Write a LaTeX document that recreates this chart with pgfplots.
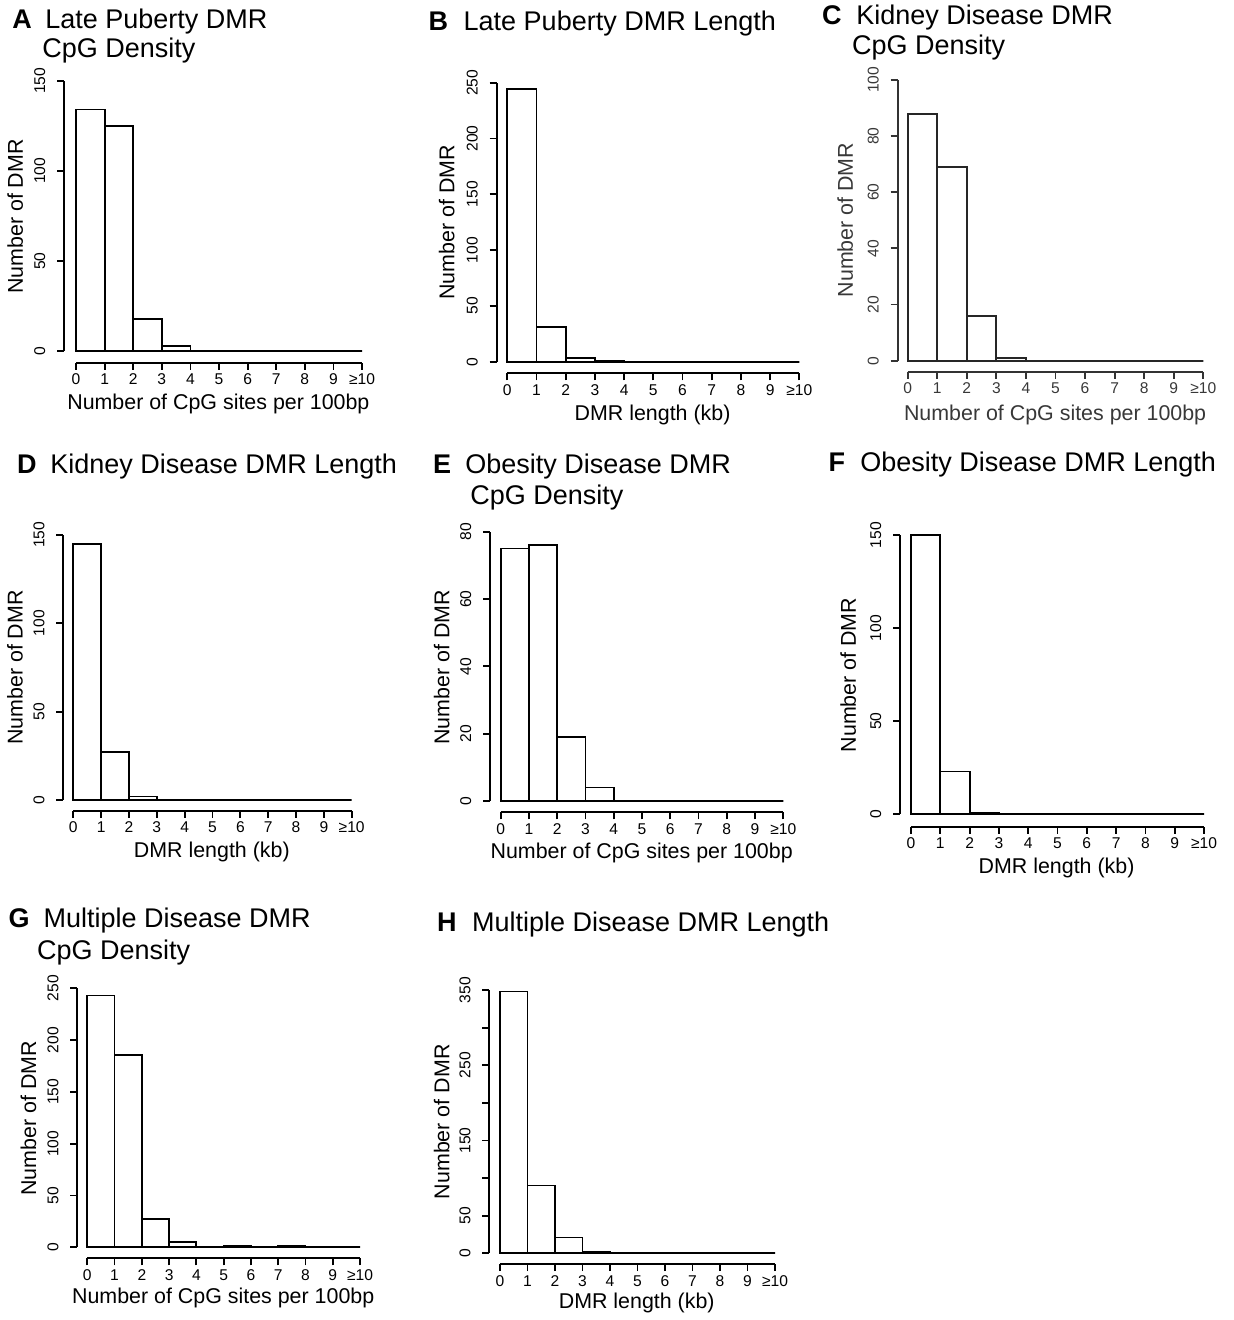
\documentclass[border=0pt]{standalone}
\usepackage{pgfplots}
\pgfplotsset{compat=1.18}
\usepackage{fontspec}
\setmainfont{Liberation Sans}
\newcommand{\ttl}[3]{\node[anchor=base west, inner sep=0pt, font=\fontsize{13.5}{16}\selectfont] at ({#1*0.5pt},{(1320-#2)*0.5pt}) {#3};}
\newcommand{\raxes}[1][black]{%
  \draw[line width=0.9pt, #1] ({axis cs:0,0} |- {rel axis cs:0,0}) -- ({axis cs:10,0} |- {rel axis cs:0,0});
  \draw[line width=0.9pt, #1] ({rel axis cs:0,0} |- {axis cs:0,0}) -- (rel axis cs:0,1);}
\pgfplotsset{
  rhist/.style={
    scale only axis,
    anchor=south west,
    axis x line*=bottom, axis y line*=left,
    axis line style={draw=none},
    xmax=10,
    xtick={0,...,10},
    xticklabels={0,1,2,3,4,5,6,7,8,9,≥10},
    tick align=outside,
    major tick length=3.5pt,
    every tick/.style={black, line width=0.9pt},
    tick label style={font=\fontsize{7.8}{9}\selectfont},
    xticklabel style={anchor=base, yshift=-7.5pt},
    yticklabel style={anchor=base, xshift=-6pt, rotate=90},
    label style={font=\fontsize{10.7}{12}\selectfont},
    clip=false,
  },
  ylab/.style n args={2}{ylabel style={at={(axis description cs:#1,#2)},anchor=center}},
  xlab/.style n args={2}{xlabel style={at={(axis description cs:#1,#2)},anchor=center}},
  hbar/.style={ybar, bar width=1, draw=black, fill=white, line width=0.9pt},
}
\begin{document}
\begin{tikzpicture}
\useasboundingbox (0,0) rectangle (617pt,660pt);
% A
\begin{axis}[rhist, at={(32pt,478.65pt)}, width=149pt, height=141pt,
  xmin=-0.42, ymin=-6.32, ymax=150, ytick={0,50,100,150}, yticklabels={0,50,100,150},
  ylabel={Number of DMR}, xlabel={Number of CpG sites per 100bp},
  ylab={-0.164}{0.518}, xlab={0.518}{-0.146}]
\addplot[hbar] coordinates {(0.5,134) (1.5,125) (2.5,18) (3.5,3) (4.5,0) (5.5,0) (6.5,0) (7.5,0) (8.5,0) (9.5,0)};
\raxes
\end{axis}
% B
\begin{axis}[rhist, at={(248.35pt,473.35pt)}, width=151.3pt, height=145.3pt,
  xmin=-0.363, ymin=-10.39, ymax=250, ytick={0,50,100,150,200,250}, yticklabels={0,50,100,150,200,250},
  ylabel={Number of DMR}, xlabel={DMR length (kb)},
  ylab={-0.165}{0.519}, xlab={0.515}{-0.1435}]
\addplot[hbar] coordinates {(0.5,244) (1.5,31) (2.5,3) (3.5,1) (4.5,0) (5.5,0) (6.5,0) (7.5,0) (8.5,0) (9.5,0)};
\raxes
\end{axis}
% C
\begin{axis}[rhist, at={(448.85pt,474.15pt)}, width=152.8pt, height=145.85pt,
  xmin=-0.338, ymin=-3.92, ymax=100, ytick={0,20,40,60,80,100}, yticklabels={0,20,40,60,80,100},
  every tick/.style={black!80, line width=0.9pt},
  tick label style={text=black!78}, label style={text=black!78},
  ylabel={Number of DMR}, xlabel={Number of CpG sites per 100bp},
  ylab={-0.172}{0.52}, xlab={0.515}{-0.148}]
\addplot[hbar, draw=black!85] coordinates {(0.5,88) (1.5,69) (2.5,16) (3.5,1) (4.5,0) (5.5,0) (6.5,0) (7.5,0) (8.5,0) (9.5,0)};
\raxes[black!80]
\end{axis}
% D
\begin{axis}[rhist, at={(31.65pt,254.65pt)}, width=144.2pt, height=137.85pt,
  xmin=-0.359, ymin=-6.06, ymax=150, ytick={0,50,100,150}, yticklabels={0,50,100,150},
  ylabel={Number of DMR}, xlabel={DMR length (kb)},
  ylab={-0.1675}{0.519}, xlab={0.515}{-0.149}]
\addplot[hbar] coordinates {(0.5,145) (1.5,27) (2.5,2) (3.5,0) (4.5,0) (5.5,0) (6.5,0) (7.5,0) (8.5,0) (9.5,0)};
\raxes
\end{axis}
% E
\begin{axis}[rhist, at={(245pt,253.85pt)}, width=146.65pt, height=140.3pt,
  xmin=-0.379, ymin=-3.36, ymax=80, ytick={0,20,40,60,80}, yticklabels={0,20,40,60,80},
  ylabel={Number of DMR}, xlabel={Number of CpG sites per 100bp},
  ylab={-0.165}{0.516}, xlab={0.517}{-0.146}]
\addplot[hbar] coordinates {(0.5,75) (1.5,76) (2.5,19) (3.5,4) (4.5,0) (5.5,0) (6.5,0) (7.5,0) (8.5,0) (9.5,0)};
\raxes
\end{axis}
% F
\begin{axis}[rhist, at={(450pt,246.65pt)}, width=152pt, height=145.85pt,
  xmin=-0.375, ymin=-6.66, ymax=150, ytick={0,50,100,150}, yticklabels={0,50,100,150},
  ylabel={Number of DMR}, xlabel={DMR length (kb)},
  ylab={-0.170}{0.520}, xlab={0.515}{-0.1426}]
\addplot[hbar] coordinates {(0.5,150) (1.5,23) (2.5,1) (3.5,0) (4.5,0) (5.5,0) (6.5,0) (7.5,0) (8.5,0) (9.5,0)};
\raxes
\end{axis}
% G
\begin{axis}[rhist, at={(38.65pt,30.85pt)}, width=141.35pt, height=135pt,
  xmin=-0.367, ymin=-10.62, ymax=250, ytick={0,50,100,150,200,250}, yticklabels={0,50,100,150,200,250},
  ylabel={Number of DMR}, xlabel={Number of CpG sites per 100bp},
  ylab={-0.173}{0.5185}, xlab={0.516}{-0.148}]
\addplot[hbar] coordinates {(0.5,243) (1.5,186) (2.5,27) (3.5,5) (4.5,0) (5.5,1) (6.5,0) (7.5,1) (8.5,0) (9.5,0)};
\raxes
\end{axis}
% H
\begin{axis}[rhist, at={(244.65pt,28pt)}, width=142.85pt, height=137pt,
  xmin=-0.389, ymin=-14.22, ymax=350, ytick={0,50,100,150,200,250,300,350}, yticklabels={0,50,,150,,250,,350},
  ylabel={Number of DMR}, xlabel={DMR length (kb)},
  ylab={-0.1666}{0.519}, xlab={0.516}{-0.1434}]
\addplot[hbar] coordinates {(0.5,348) (1.5,90) (2.5,21) (3.5,2) (4.5,0) (5.5,0) (6.5,0) (7.5,0) (8.5,0) (9.5,0)};
\raxes
\end{axis}
% titles
\ttl{12}{29}{\textbf{A}} \ttl{45}{29}{Late Puberty DMR} \ttl{42}{58}{CpG Density}
\ttl{428.3}{30.7}{\textbf{B}} \ttl{463.3}{30.7}{Late Puberty DMR Length}
\ttl{821.7}{25}{\textbf{C}} \ttl{856}{25}{Kidney Disease DMR} \ttl{851.7}{55}{CpG Density}
\ttl{16.7}{473.3}{\textbf{D}} \ttl{50}{473.3}{Kidney Disease DMR Length}
\ttl{432.7}{473.3}{\textbf{E}} \ttl{465}{473.3}{Obesity Disease DMR} \ttl{470}{505}{CpG Density}
\ttl{828.3}{471.7}{\textbf{F}} \ttl{860}{471.7}{Obesity Disease DMR Length}
\ttl{8.3}{927.3}{\textbf{G}} \ttl{43.3}{927.3}{Multiple Disease DMR} \ttl{36.7}{960}{CpG Density}
\ttl{436.7}{931.7}{\textbf{H}} \ttl{471.7}{931.7}{Multiple Disease DMR Length}
\end{tikzpicture}
\end{document}
